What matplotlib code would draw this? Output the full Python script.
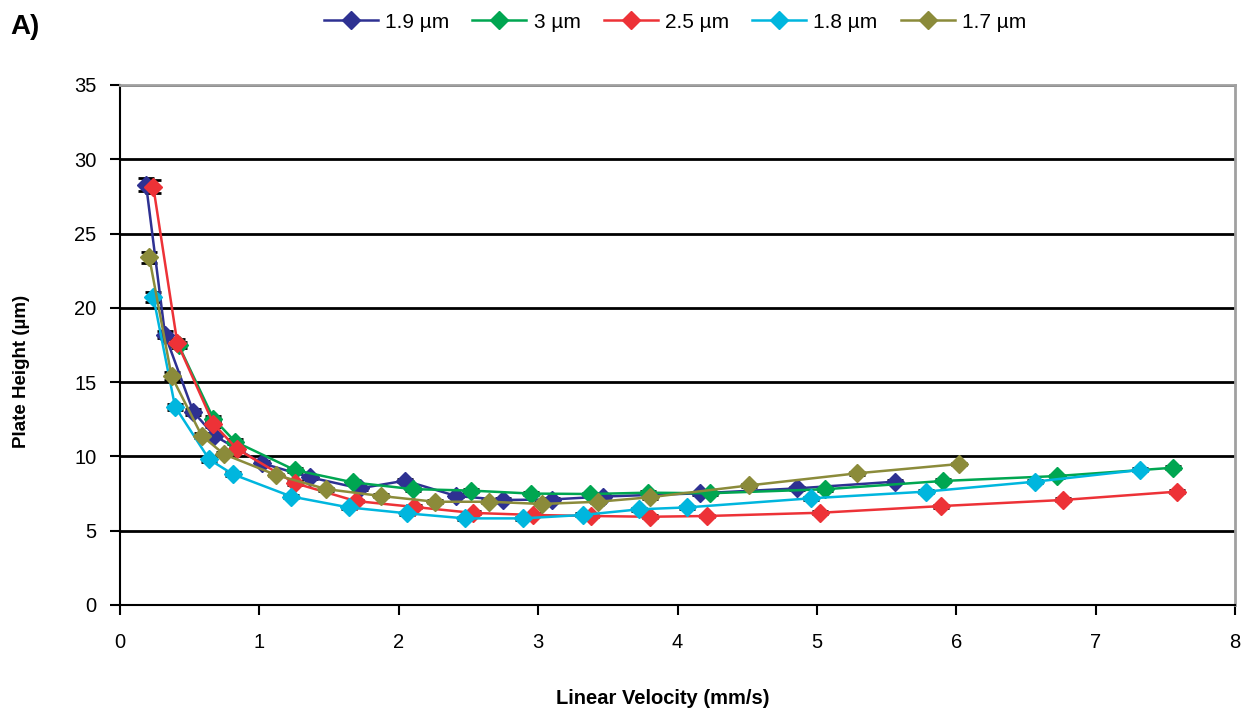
import matplotlib
matplotlib.use("Agg")
import matplotlib.pyplot as plt
import numpy as np

plt.rcParams['font.family'] = ['Liberation Sans', 'DejaVu Sans']

labels = ["1.9 µm", "3 µm", "2.5 µm", "1.8 µm", "1.7 µm"]
colors = ["#2e3192", "#00a651", "#ed3237", "#00b6de", "#8b8b3a"]

x_19 = [0.187, 0.323, 0.526, 0.677, 1.016, 1.36, 1.72, 2.045, 2.41, 2.75, 3.097, 3.467, 4.165, 4.86, 5.56]
y_19 = [28.3, 18.2, 13.0, 11.4, 9.55, 8.6, 7.85, 8.37, 7.34, 7.07, 7.1, 7.3, 7.52, 7.85, 8.3]

x_3 = [0.42, 0.67, 0.825, 1.255, 1.674, 2.10, 2.52, 2.95, 3.37, 3.79, 4.23, 5.057, 5.906, 6.724, 7.556]
y_3 = [17.5, 12.55, 11.0, 9.08, 8.25, 7.8, 7.7, 7.5, 7.47, 7.56, 7.52, 7.79, 8.35, 8.68, 9.24]

x_25 = [0.239, 0.411, 0.67, 0.84, 1.255, 1.69, 2.11, 2.53, 2.965, 3.38, 3.80, 4.21, 5.026, 5.894, 6.767, 7.585]
y_25 = [28.15, 17.65, 12.2, 10.5, 8.2, 7.0, 6.6, 6.2, 6.06, 5.99, 5.94, 5.99, 6.21, 6.66, 7.07, 7.63]

x_18 = [0.239, 0.395, 0.64, 0.81, 1.23, 1.64, 2.06, 2.475, 2.89, 3.32, 3.725, 4.07, 4.955, 5.78, 6.564, 7.32]
y_18 = [20.75, 13.35, 9.8, 8.8, 7.3, 6.57, 6.17, 5.83, 5.83, 6.06, 6.44, 6.57, 7.18, 7.63, 8.3, 9.09]

x_17 = [0.21, 0.37, 0.586, 0.746, 1.12, 1.48, 1.87, 2.26, 2.65, 3.025, 3.43, 3.80, 4.515, 5.285, 6.02]
y_17 = [23.4, 15.4, 11.4, 10.15, 8.75, 7.8, 7.34, 6.95, 6.95, 6.8, 6.95, 7.25, 8.05, 8.86, 9.49]

err_19 = [0.45, 0.25, 0.2, 0.15, 0.12, 0.1, 0.1, 0.1, 0.1, 0.1, 0.1, 0.1, 0.1, 0.1, 0.1]
err_3 = [0.2, 0.2, 0.15, 0.12, 0.1, 0.1, 0.1, 0.1, 0.1, 0.1, 0.1, 0.1, 0.1, 0.1, 0.1]
err_25 = [0.45, 0.25, 0.2, 0.15, 0.12, 0.1, 0.1, 0.1, 0.1, 0.1, 0.1, 0.1, 0.1, 0.1, 0.1, 0.1]
err_18 = [0.35, 0.2, 0.15, 0.12, 0.1, 0.1, 0.1, 0.1, 0.1, 0.1, 0.1, 0.1, 0.1, 0.1, 0.1, 0.1]
err_17 = [0.35, 0.25, 0.15, 0.12, 0.1, 0.1, 0.1, 0.1, 0.1, 0.1, 0.1, 0.1, 0.1, 0.1, 0.1]

series = [(x_19, y_19, err_19), (x_3, y_3, err_3), (x_25, y_25, err_25),
          (x_18, y_18, err_18), (x_17, y_17, err_17)]

fig = plt.figure(figsize=(12.41, 7.09), dpi=100)
ax = fig.add_axes([120/1241, 1-605/709, (1235-120)/1241, (605-85)/709])

handles = []
for (xs, ys, es), lab, col in zip(series, labels, colors):
    ax.errorbar(xs, ys, yerr=es, fmt='none', ecolor='black', elinewidth=1.2,
                capsize=6, capthick=2, zorder=2)
    h, = ax.plot(xs, ys, '-', color=col, lw=1.8, marker='D', ms=9,
                 mec=col, mfc=col, label=lab, zorder=3)
    handles.append(h)

ax.set_xlim(0, 8)
ax.set_ylim(0, 35)
ax.set_xticks(np.arange(0, 9, 1))
ax.set_yticks(np.arange(0, 36, 5))
ax.yaxis.grid(True, color='black', lw=2)
ax.set_axisbelow(True)
for s in ['top', 'right']:
    ax.spines[s].set_color('#a0a0a0')
    ax.spines[s].set_linewidth(2)
for s in ['left', 'bottom']:
    ax.spines[s].set_color('black')
    ax.spines[s].set_linewidth(1.5)
ax.tick_params(axis='both', labelsize=14.5, length=7, width=1.5, direction='out')
ax.tick_params(axis='x', pad=13)
ax.tick_params(axis='y', pad=10)

ax.set_xlabel("Linear Velocity (mm/s)", fontsize=14.5, fontweight='bold')
ax.set_ylabel("Plate Height (µm)", fontsize=13.5, fontweight='bold')
ax.xaxis.set_label_coords((663-120)/(1235-120), (605-698)/(605-85))
ax.yaxis.set_label_coords((22-120)/(1235-120), (605-371)/(605-85))
ax.xaxis.label.set_va('center')
ax.yaxis.label.set_va('center')

fig.legend(handles=handles, labels=labels, loc='center', bbox_to_anchor=(675/1241, 1-22/709),
           ncol=5, frameon=False, fontsize=15, handlelength=2.6, columnspacing=1.1,
           handletextpad=0.35)

fig.text(10/1241, 1-27/709, "A)", fontsize=20, fontweight='bold', va='center', ha='left')

fig.savefig("out.png", dpi=100)
